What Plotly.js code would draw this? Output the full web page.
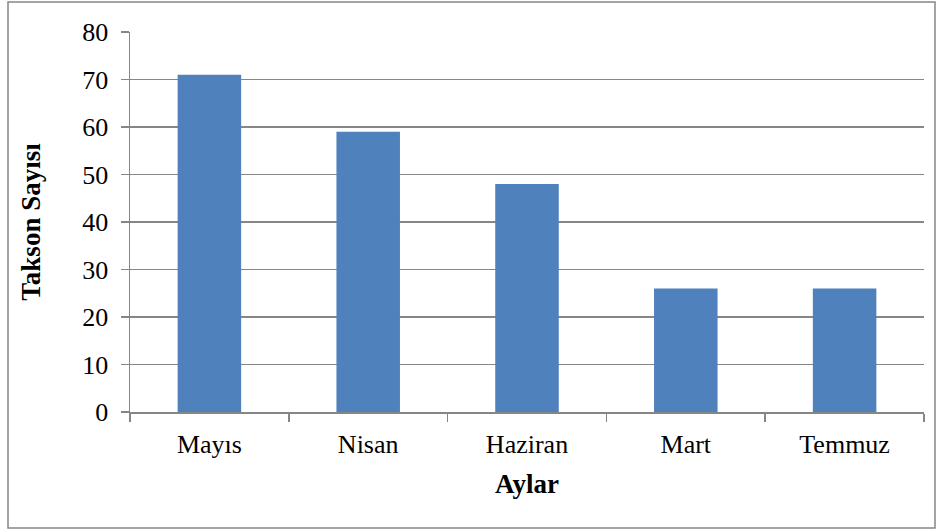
<!DOCTYPE html>
<html>
<head>
<meta charset="utf-8">
<script src="https://cdn.plot.ly/plotly-3.0.1.min.js"></script>
<style>html,body{margin:0;padding:0;background:#fff;}#chart{width:943px;height:532px;}</style>
</head>
<body>
<div id="chart"></div>
<script>
const months = ["Mayıs", "Nisan", "Haziran", "Mart", "Temmuz"];
const taxonCounts = [71, 59, 48, 26, 26];
const yTickValues = [0, 10, 20, 30, 40, 50, 60, 70, 80];

const fontFamily = 'Liberation Serif, Times New Roman, serif';
const gridGray = '#868686';

const trace = {
  type: 'bar',
  x: months,
  y: taxonCounts,
  marker: {color: '#4F81BD'},
  hoverinfo: 'x+y'
};

const layout = {
  width: 943,
  height: 532,
  margin: {l: 130, r: 19, t: 32, b: 120},
  paper_bgcolor: '#fff',
  plot_bgcolor: '#fff',
  bargap: 0.6,
  showlegend: false,
  font: {family: fontFamily, size: 26, color: '#000'},
  xaxis: {
    type: 'category',
    tickson: 'boundaries',
    ticks: 'outside',
    ticklen: 8,
    tickwidth: 1.5,
    tickcolor: gridGray,
    showline: true,
    linecolor: gridGray,
    linewidth: 1.5,
    showgrid: false,
    ticklabelstandoff: 8,
    tickfont: {family: fontFamily, size: 26, color: '#000'},
    title: {text: '<b>Aylar</b>', font: {family: fontFamily, size: 27, color: '#000'}, standoff: 16}
  },
  yaxis: {
    range: [0, 80],
    tickvals: yTickValues,
    ticks: 'outside',
    ticklen: 8,
    tickwidth: 1.5,
    tickcolor: gridGray,
    showline: true,
    linecolor: gridGray,
    linewidth: 1.5,
    showgrid: true,
    gridcolor: gridGray,
    gridwidth: 1.5,
    zeroline: false,
    ticklabelstandoff: 7,
    tickfont: {family: fontFamily, size: 26, color: '#000'},
    title: {text: '<b>Takson Sayısı</b>', font: {family: fontFamily, size: 27, color: '#000'}, standoff: 34}
  },
  shapes: [{
    type: 'rect', xref: 'paper', yref: 'paper',
    x0: (8 - 130) / 794, x1: (935 - 130) / 794,
    y0: (412 - 528) / 380, y1: (412 - 2) / 380,
    line: {color: gridGray, width: 1.5}, fillcolor: 'rgba(0,0,0,0)', layer: 'below'
  }]
};

Plotly.newPlot('chart', [trace], layout, {displayModeBar: false, staticPlot: true});
</script>
</body>
</html>
